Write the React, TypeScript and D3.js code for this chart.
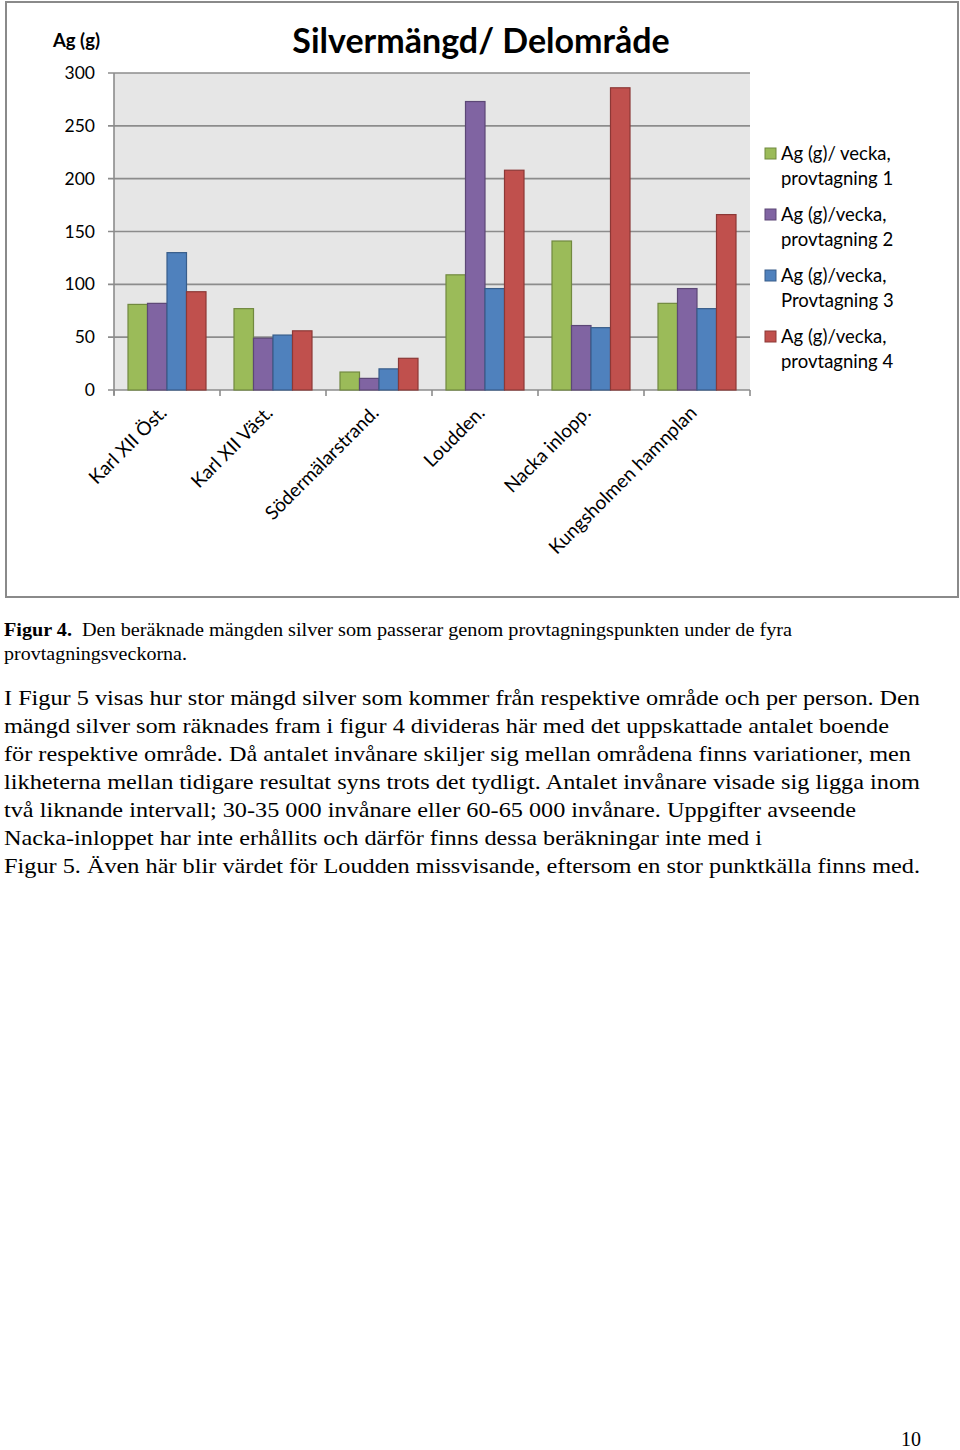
import React from "react";
import * as d3 from "d3";

const categories = [
  "Karl XII Öst.",
  "Karl XII Väst.",
  "Södermälarstrand.",
  "Loudden.",
  "Nacka inlopp.",
  "Kungsholmen hamnplan",
];
const seriesNames = [
  ["Ag (g)/ vecka,", "provtagning 1"],
  ["Ag (g)/vecka,", "provtagning 2"],
  ["Ag (g)/vecka,", "Provtagning 3"],
  ["Ag (g)/vecka,", "provtagning 4"],
];
const prov1 = [81, 77, 17, 109, 141, 82];
const prov2 = [82, 49, 11, 273, 61, 96];
const prov3 = [130, 52, 20, 96, 59, 77];
const prov4 = [93, 56, 30, 208, 286, 166];
const series = [prov1, prov2, prov3, prov4];
const fills = ["#9BBB59", "#8064A2", "#4F81BD", "#C0504D"];
const strokes = ["#71893F", "#5C4776", "#385D8A", "#8C3836"];
const yTicks = [0, 50, 100, 150, 200, 250, 300];

const captionLines = [
  { text: "Den beräknade mängden silver som passerar genom provtagningspunkten under de fyra", x0: 82, x1: 792 },
  { text: "provtagningsveckorna.", x0: 4, x1: 187 },
];
const bodyLines = [
  { text: "I Figur 5 visas hur stor mängd silver som kommer från respektive område och per person. Den", x1: 920 },
  { text: "mängd silver som räknades fram i figur 4 divideras här med det uppskattade antalet boende", x1: 889 },
  { text: "för respektive område. Då antalet invånare skiljer sig mellan områdena finns variationer, men", x1: 911 },
  { text: "likheterna mellan tidigare resultat syns trots det tydligt. Antalet invånare visade sig ligga inom", x1: 920 },
  { text: "två liknande intervall; 30-35 000 invånare eller 60-65 000 invånare. Uppgifter avseende", x1: 856 },
  { text: "Nacka-inloppet har inte erhållits och därför finns dessa beräkningar inte med i", x1: 762 },
  { text: "Figur 5. Även här blir värdet för Loudden missvisande, eftersom en stor punktkälla finns med.", x1: 920 },
];

export default function App() {
  const left = 114, right = 750, top = 73, bottom = 390;
  const x = d3.scaleBand<string>().domain(categories).range([left, right]).padding(0);
  const inner = d3
    .scaleBand<number>()
    .domain(d3.range(4))
    .range([14, x.bandwidth() - 14])
    .padding(0);
  const y = d3.scaleLinear().domain([0, 300]).range([bottom, top]);
  const font = "Lato, 'Open Sans', sans-serif";
  const serif = "'Liberation Serif', 'Times New Roman', serif";

  return (
    <svg
      width={960}
      height={1450}
      style={{ position: "absolute", left: 0, top: 0, background: "#fff" }}
    >
      <rect x={6} y={2} width={952} height={595} fill="#fff" stroke="#8a8a8a" strokeWidth={2} />
      <rect x={left} y={top} width={right - left} height={bottom - top} fill="#E6E6E6" />
      {yTicks.map((t) => (
        <g key={t}>
          <line x1={left - 6} x2={right} y1={y(t)} y2={y(t)} stroke="#8c8c8c" strokeWidth={1.6} />
          <text x={95} y={y(t) + 6} textAnchor="end" fontFamily={font} fontSize={17.5} fill="#000">
            {t}
          </text>
        </g>
      ))}
      <line x1={left} x2={left} y1={top} y2={bottom + 5} stroke="#8c8c8c" strokeWidth={1.6} />
      {d3.range(categories.length + 1).map((i) => {
        const xx = left + i * x.bandwidth();
        return <line key={i} x1={xx} x2={xx} y1={bottom} y2={bottom + 6} stroke="#8c8c8c" strokeWidth={1.6} />;
      })}
      {categories.map((c, ci) => (
        <g key={c}>
          {series.map((s, si) => (
            <rect
              key={si}
              x={(x(c) as number) + (inner(si) as number)}
              y={y(s[ci])}
              width={inner.bandwidth()}
              height={y(0) - y(s[ci])}
              fill={fills[si]}
              stroke={strokes[si]}
              strokeWidth={1.2}
            />
          ))}
        </g>
      ))}
      {categories.map((c) => {
        const cx = (x(c) as number) + x.bandwidth() / 2 + 1;
        const cy = 414;
        return (
          <text
            key={c}
            x={cx}
            y={cy}
            textAnchor="end"
            transform={`rotate(-45, ${cx}, ${cy})`}
            fontFamily={font}
            fontSize={19}
            fill="#000"
          >
            {c}
          </text>
        );
      })}
      <text x={53} y={47} fontFamily={font} fontSize={18.5} fontWeight="bold" fill="#000">
        Ag (g)
      </text>
      <text x={481} y={53} textAnchor="middle" fontFamily={font} fontSize={34} fontWeight="bold" fill="#000">
        Silvermängd/ Delområde
      </text>
      {seriesNames.map((n, i) => (
        <g key={i}>
          <rect x={765} y={148 + i * 61} width={11} height={11} fill={fills[i]} stroke={strokes[i]} strokeWidth={1} />
          <text x={781} y={160 + i * 61} fontFamily={font} fontSize={18.5} fill="#000">
            {n[0]}
          </text>
          <text x={781} y={185 + i * 61} fontFamily={font} fontSize={18.5} fill="#000">
            {n[1]}
          </text>
        </g>
      ))}
      <text
        x={4}
        y={636}
        fontFamily={serif}
        fontSize={18}
        fontWeight="bold"
        fill="#000"
        textLength={68}
        lengthAdjust="spacingAndGlyphs"
      >
        Figur 4.
      </text>
      {captionLines.map((l, i) => (
        <text
          key={i}
          x={l.x0}
          y={636 + i * 24}
          fontFamily={serif}
          fontSize={18}
          fill="#000"
          textLength={l.x1 - l.x0}
          lengthAdjust="spacingAndGlyphs"
        >
          {l.text}
        </text>
      ))}
      {bodyLines.map((l, i) => (
        <text
          key={i}
          x={4}
          y={705 + i * 28}
          fontFamily={serif}
          fontSize={22}
          fill="#000"
          textLength={l.x1 - 4}
          lengthAdjust="spacingAndGlyphs"
        >
          {l.text}
        </text>
      ))}
      <text x={921} y={1446} textAnchor="end" fontFamily={serif} fontSize={20} fill="#000">
        10
      </text>
    </svg>
  );
}
